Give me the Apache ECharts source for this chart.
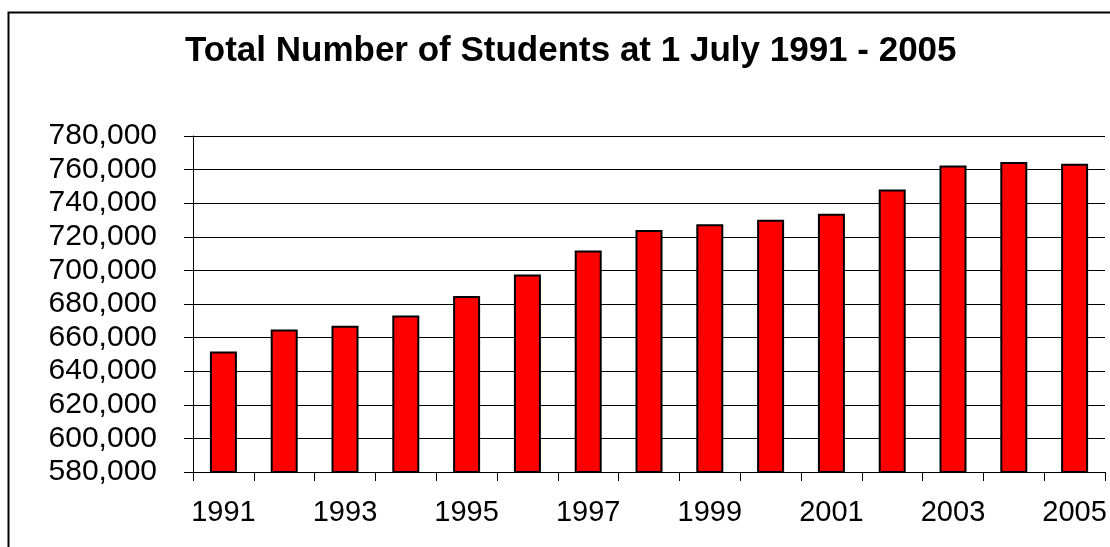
<!DOCTYPE html>
<html><head><meta charset="utf-8">
<script src="https://cdn.jsdelivr.net/npm/echarts@6/dist/echarts.min.js"></script>
<style>html,body{margin:0;padding:0;background:#fff}#c{width:1110px;height:547px}</style>
</head><body><div id="c"></div>
<script>
const titleText = 'Total Number of Students at 1 July 1991 - 2005';
const years = ['1991','1992','1993','1994','1995','1996','1997','1998','1999','2000','2001','2002','2003','2004','2005'];
const students = [651700, 664800, 667100, 673100, 684800, 697600, 711800, 724000, 727500, 730200, 733700, 748200, 762400, 764500, 763500];
const yMin = 580000, yMax = 780000, yStep = 20000;

const chart = echarts.init(document.getElementById('c'), null, {renderer:'canvas'});
const font = '"Liberation Sans", Arial, sans-serif';
chart.setOption({
  animation: false,
  backgroundColor: '#fff',
  title: {
    text: titleText, left: 180, top: 29,
    textStyle: {fontFamily: font, fontWeight: 'bold', fontSize: 35, color: '#000'}
  },
  graphic: [{
    type: 'rect', shape: {x: 8.5, y: 12.5, width: 1200, height: 600},
    style: {fill: null, stroke: '#000', lineWidth: 2}, silent: true
  }],
  grid: {left: 193, right: 5, top: 136, bottom: 75},
  xAxis: {
    type: 'category', data: years, boundaryGap: true,
    axisLine: {lineStyle: {color: '#000', width: 1}},
    axisTick: {show: true, alignWithLabel: false, interval: 0, length: 9, lineStyle: {color: '#000'}},
    axisLabel: {interval: 1, margin: 26, fontFamily: font, fontSize: 29, color: '#000'},
    splitLine: {show: false}
  },
  yAxis: {
    type: 'value', min: yMin, max: yMax, interval: yStep,
    axisLine: {show: true, lineStyle: {color: '#000', width: 1}},
    axisTick: {show: true, length: 9, lineStyle: {color: '#000'}},
    axisLabel: {margin: 36, fontFamily: font, fontSize: 30, color: '#000',
      formatter: v => v.toLocaleString('en-US')},
    splitLine: {show: true, lineStyle: {color: '#000', width: 1}}
  },
  series: [{
    type: 'bar', data: students, barWidth: 27,
    itemStyle: {color: '#ff0000', borderColor: '#000', borderWidth: 2}
  }]
});
</script></body></html>
